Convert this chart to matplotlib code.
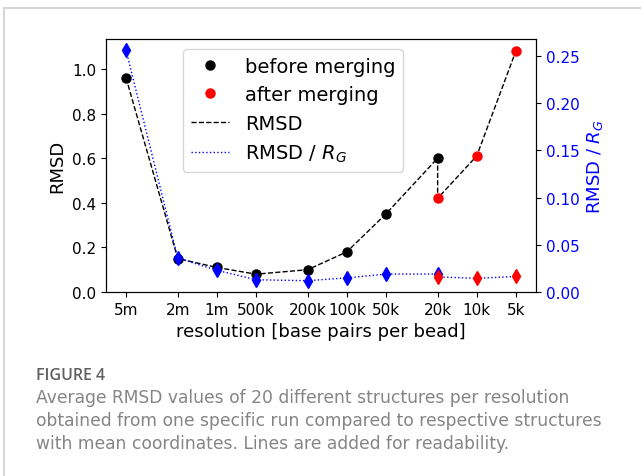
import matplotlib.pyplot as plt
from matplotlib.lines import Line2D

# resolutions (base pairs per bead) and tick labels
res_ticks = [5e6, 2e6, 1e6, 5e5, 2e5, 1e5, 5e4, 2e4, 1e4, 5e3]
tick_labels = ['5m', '2m', '1m', '500k', '200k', '100k', '50k', '20k', '10k', '5k']

# RMSD before merging
res_before = [5e6, 2e6, 1e6, 5e5, 2e5, 1e5, 5e4, 2e4]
rmsd_before = [0.96, 0.15, 0.11, 0.08, 0.10, 0.18, 0.35, 0.60]
rg_before = [0.256, 0.036, 0.023, 0.013, 0.012, 0.015, 0.019, 0.019]

# after merging
res_after = [2e4, 1e4, 5e3]
rmsd_after = [0.42, 0.61, 1.08]
rg_after = [0.016, 0.0145, 0.0165]

fig = plt.figure(figsize=(6.41, 4.77), dpi=100)
ax = fig.add_axes([0.1654, 0.3857, 0.6708, 0.5304])
ax2 = ax.twinx()

# connecting lines
ax.plot(res_before + res_after, rmsd_before + rmsd_after, 'k--', lw=1, zorder=1)
ax2.plot(res_before + res_after, rg_before + rg_after, color='blue', ls=':', lw=1, zorder=1)

# points
ax.plot(res_before, rmsd_before, 'o', color='black', ms=6.5, zorder=3)
ax.plot(res_after, rmsd_after, 'o', color='red', ms=6.5, zorder=3)
ax2.plot(res_before, rg_before, 'd', color='blue', ms=7, zorder=3)
ax2.plot(res_after, rg_after, 'd', color='red', ms=7, zorder=3)

ax.set_xscale('log')
ax.set_xlim(7.13e6, 3.5e3)
ax.set_xticks(res_ticks)
ax.set_xticklabels(tick_labels)
ax.minorticks_off()
ax.set_ylim(0, 1.134)
ax2.set_ylim(0, 0.268)

ax.tick_params(labelsize=11)
ax2.tick_params(labelsize=11, colors='blue')
ax2.tick_params(axis='y', color='black')
ax.set_xlabel('resolution [base pairs per bead]', fontsize=13)
ax.set_ylabel('RMSD', fontsize=13)
ax2.set_ylabel('RMSD / $R_G$', fontsize=13, color='blue')

handles = [
    Line2D([], [], marker='o', color='black', ls='none', ms=6.5),
    Line2D([], [], marker='o', color='red', ls='none', ms=6.5),
    Line2D([], [], color='black', ls='--', lw=1),
    Line2D([], [], color='blue', ls=':', lw=1),
]
labels = ['before merging', 'after merging', 'RMSD', 'RMSD / $R_G$']
ax.legend(handles, labels, loc='upper center', fontsize=14, bbox_to_anchor=(0.435, 1.0))

# page frame
fig.add_artist(Line2D([4 / 641, 1], [1 - 9 / 477, 1 - 9 / 477], color='#d6d6d6', lw=1.5))
fig.add_artist(Line2D([4 / 641, 4 / 641], [0, 1 - 9 / 477], color='#d6d6d6', lw=1.5))

# caption
fig.text(36 / 641, 1 - 380 / 477, 'FIGURE 4', fontsize=11.5, family='Open Sans',
         weight='semibold', color='#606060', va='baseline')
caption = ['Average RMSD values of 20 different structures per resolution',
           'obtained from one specific run compared to respective structures',
           'with mean coordinates. Lines are added for readability.']
for i, line in enumerate(caption):
    fig.text(36 / 641, 1 - (403 + 23 * i) / 477, line, fontsize=12.3, family='DejaVu Sans',
             color='#858585', va='baseline')

fig.savefig('out.png', dpi=100)
